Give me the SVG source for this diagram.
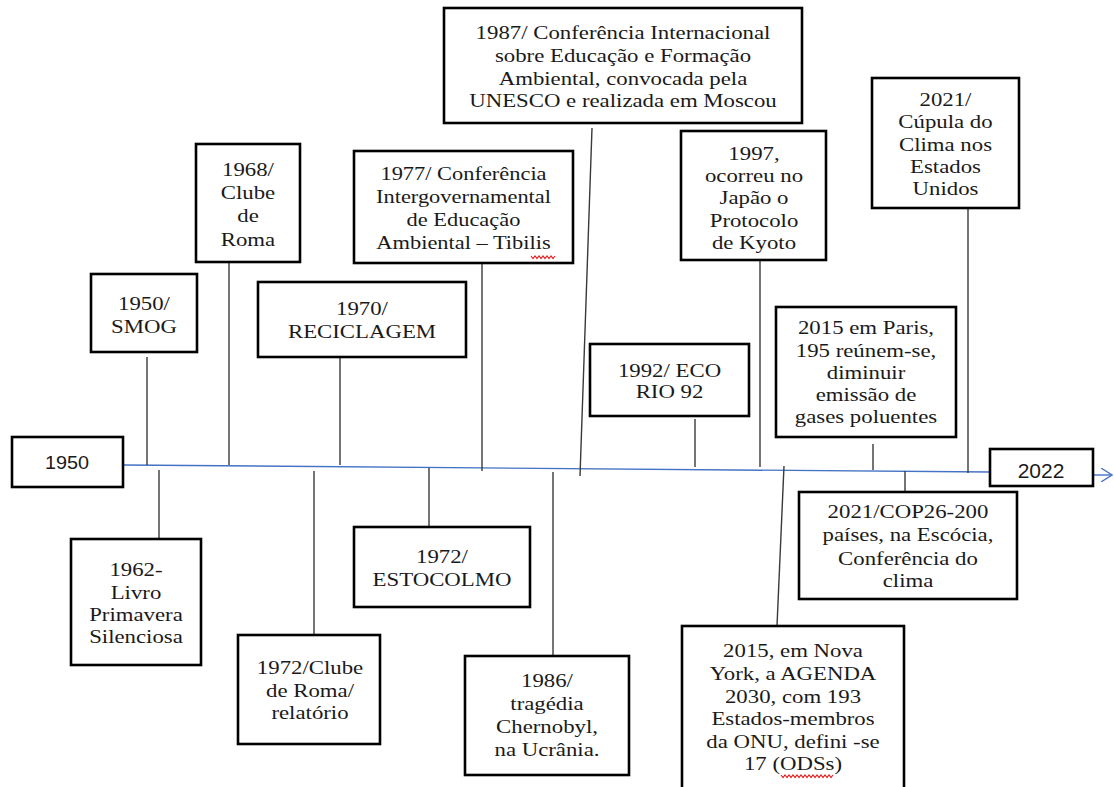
<svg xmlns="http://www.w3.org/2000/svg" width="1114" height="787" viewBox="0 0 1114 787">
<style>
.box{fill:#fff;stroke:#000;stroke-width:2.6}
.t{font-family:"Liberation Serif","Times New Roman",serif;font-size:19px;fill:#1a1a1a;text-anchor:middle}
.s{font-family:"Liberation Sans",Arial,sans-serif;fill:#1a1a1a;text-anchor:middle}
.c{stroke:#3a3a3a;stroke-width:1.4;fill:none}
.tl{stroke:#4472c4;stroke-width:1.4;fill:none}
.sq{stroke:#e02020;stroke-width:1.2;fill:none}
</style>
<defs>
<marker id="arr" viewBox="0 0 12 14" refX="11" refY="7" markerWidth="12" markerHeight="14" markerUnits="userSpaceOnUse" orient="auto">
<path d="M0,0 L11,7 L0,14" fill="none" stroke="#4472c4" stroke-width="1.3"/>
</marker>
</defs>
<rect width="1114" height="787" fill="#fff"/>

<g id="connectors">
<path class="tl" d="M123,465 L990,472"/>
<path class="tl" d="M1093,475 L1112,475" marker-end="url(#arr)"/>
<path class="c" d="M147,357 V465"/>
<path class="c" d="M229,262 V465"/>
<path class="c" d="M340,357 V465"/>
<path class="c" d="M482,263 V471"/>
<path class="c" d="M592,128 L580,476"/>
<path class="c" d="M695,419 V467"/>
<path class="c" d="M760,260 V467"/>
<path class="c" d="M873,444 V470"/>
<path class="c" d="M968,208 V473"/>
<path class="c" d="M159,470 V539"/>
<path class="c" d="M314,471 V635"/>
<path class="c" d="M429,468 V527"/>
<path class="c" d="M553,472 V656"/>
<path class="c" d="M784,466 L777,626"/>
<path class="c" d="M905,471 V492"/>
</g>

<g id="n1950start">
<rect class="box" x="12" y="437" width="111" height="50"/>
<text class="s" font-size="18" transform="matrix(1.1 0 0 1 67 0)" x="0" y="469">1950</text>
</g>

<g id="n2022">
<rect class="box" x="990" y="449" width="103" height="37"/>
<text class="s" font-size="21" x="1041" y="478">2022</text>
</g>

<g id="smog">
<rect class="box" x="91" y="274" width="106" height="78"/>
<text class="t" transform="matrix(1.2 0 0 1 144 0)"><tspan x="0" y="310">1950/</tspan><tspan x="0" y="333">SMOG</tspan></text>
</g>

<g id="roma1968">
<rect class="box" x="196" y="144" width="104" height="118"/>
<text class="t" transform="matrix(1.2 0 0 1 248 0)"><tspan x="0" y="176">1968/</tspan><tspan x="0" y="199">Clube</tspan><tspan x="0" y="222">de</tspan><tspan x="0" y="246">Roma</tspan></text>
</g>

<g id="tibilis1977">
<rect class="box" x="354" y="151" width="219" height="112"/>
<text class="t" transform="matrix(1.18 0 0 1 463.5 0)"><tspan x="0" y="180">1977/ Conferência</tspan><tspan x="0" y="203">Intergovernamental</tspan><tspan x="0" y="226">de Educação</tspan><tspan x="0" y="249">Ambiental – Tibilis</tspan></text>
<path class="sq" d="M531,256 l2,2.5 l2,-2.5 l2,2.5 l2,-2.5 l2,2.5 l2,-2.5 l2,2.5 l2,-2.5 l2,2.5 l2,-2.5 l2,2.5 l2,-2.5"/>
</g>

<g id="moscou1987">
<rect class="box" x="444" y="8" width="358" height="115"/>
<text class="t" transform="matrix(1.2 0 0 1 623 0)"><tspan x="0" y="39">1987/ Conferência Internacional</tspan><tspan x="0" y="62">sobre Educação e Formação</tspan><tspan x="0" y="85">Ambiental, convocada pela</tspan><tspan x="0" y="107">UNESCO e realizada em Moscou</tspan></text>
</g>

<g id="kyoto1997">
<rect class="box" x="681" y="131" width="145" height="129"/>
<text class="t" transform="matrix(1.2 0 0 1 754 0)"><tspan x="0" y="160">1997,</tspan><tspan x="0" y="182">ocorreu no</tspan><tspan x="0" y="204">Japão o</tspan><tspan x="0" y="227">Protocolo</tspan><tspan x="0" y="249">de Kyoto</tspan></text>
</g>

<g id="cupula2021">
<rect class="box" x="872" y="78" width="147" height="130"/>
<text class="t" transform="matrix(1.2 0 0 1 945.5 0)"><tspan x="0" y="106">2021/</tspan><tspan x="0" y="128">Cúpula do</tspan><tspan x="0" y="151">Clima nos</tspan><tspan x="0" y="173">Estados</tspan><tspan x="0" y="195">Unidos</tspan></text>
</g>

<g id="reciclagem1970">
<rect class="box" x="258" y="282" width="208" height="75"/>
<text class="t" transform="matrix(1.2 0 0 1 362 0)"><tspan x="0" y="315">1970/</tspan><tspan x="0" y="338">RECICLAGEM</tspan></text>
</g>

<g id="eco1992">
<rect class="box" x="590" y="344" width="159" height="72"/>
<text class="t" transform="matrix(1.2 0 0 1 669.5 0)"><tspan x="0" y="377">1992/ ECO</tspan><tspan x="0" y="398">RIO 92</tspan></text>
</g>

<g id="paris2015">
<rect class="box" x="776" y="307" width="180" height="130"/>
<text class="t" transform="matrix(1.2 0 0 1 866 0)"><tspan x="0" y="334">2015 em Paris,</tspan><tspan x="0" y="357">195 reúnem-se,</tspan><tspan x="0" y="379">diminuir</tspan><tspan x="0" y="401">emissão de</tspan><tspan x="0" y="423">gases poluentes</tspan></text>
</g>

<g id="primavera1962">
<rect class="box" x="71" y="539" width="130" height="126"/>
<text class="t" transform="matrix(1.2 0 0 1 136 0)"><tspan x="0" y="576">1962-</tspan><tspan x="0" y="599">Livro</tspan><tspan x="0" y="621">Primavera</tspan><tspan x="0" y="643">Silenciosa</tspan></text>
</g>

<g id="relatorio1972">
<rect class="box" x="238" y="635" width="142" height="109"/>
<text class="t" transform="matrix(1.2 0 0 1 310 0)"><tspan x="0" y="674">1972/Clube</tspan><tspan x="0" y="697">de Roma/</tspan><tspan x="0" y="719">relatório</tspan></text>
</g>

<g id="estocolmo1972">
<rect class="box" x="354" y="527" width="176" height="80"/>
<text class="t" transform="matrix(1.2 0 0 1 442 0)"><tspan x="0" y="563">1972/</tspan><tspan x="0" y="586">ESTOCOLMO</tspan></text>
</g>

<g id="chernobyl1986">
<rect class="box" x="465" y="656" width="164" height="119"/>
<text class="t" transform="matrix(1.2 0 0 1 547 0)"><tspan x="0" y="687">1986/</tspan><tspan x="0" y="710">tragédia</tspan><tspan x="0" y="733">Chernobyl,</tspan><tspan x="0" y="756">na Ucrânia.</tspan></text>
</g>

<g id="agenda2015">
<rect class="box" x="682" y="626" width="222" height="180"/>
<text class="t" transform="matrix(1.2 0 0 1 793 0)"><tspan x="0" y="657">2015, em Nova</tspan><tspan x="0" y="680">York, a AGENDA</tspan><tspan x="0" y="703">2030, com 193</tspan><tspan x="0" y="725">Estados-membros</tspan><tspan x="0" y="748">da ONU, defini -se</tspan><tspan x="0" y="770">17 (ODSs)</tspan></text>
<path class="sq" d="M781,775 l2,2.5 l2,-2.5 l2,2.5 l2,-2.5 l2,2.5 l2,-2.5 l2,2.5 l2,-2.5 l2,2.5 l2,-2.5 l2,2.5 l2,-2.5 l2,2.5 l2,-2.5 l2,2.5 l2,-2.5 l2,2.5 l2,-2.5 l2,2.5 l2,-2.5 l2,2.5 l2,-2.5 l2,2.5 l2,-2.5 l2,2.5 l2,-2.5"/>
</g>

<g id="cop26_2021">
<rect class="box" x="799" y="492" width="218" height="107"/>
<text class="t" transform="matrix(1.2 0 0 1 908 0)"><tspan x="0" y="518">2021/COP26-200</tspan><tspan x="0" y="541">países, na Escócia,</tspan><tspan x="0" y="565">Conferência do</tspan><tspan x="0" y="587">clima</tspan></text>
</g>
</svg>
